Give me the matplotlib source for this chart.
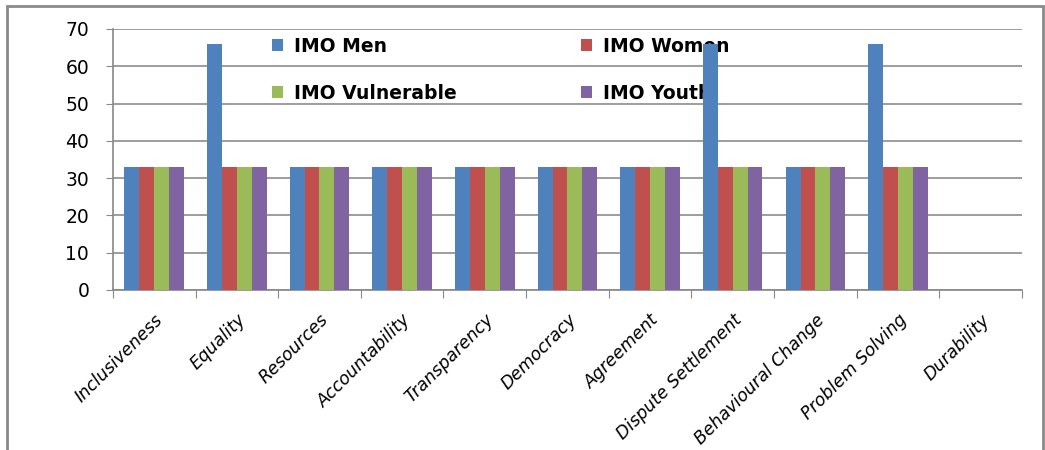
import numpy as np
import matplotlib.pyplot as plt
from matplotlib.patches import Rectangle

categories = ['Inclusiveness', 'Equality', 'Resources', 'Accountability', 'Transparency',
              'Democracy', 'Agreement', 'Dispute Settlement', 'Behavioural Change',
              'Problem Solving', 'Durability']
imo_men = [33, 66, 33, 33, 33, 33, 33, 66, 33, 66, 0]
imo_women = [33, 33, 33, 33, 33, 33, 33, 33, 33, 33, 0]
imo_vulnerable = [33, 33, 33, 33, 33, 33, 33, 33, 33, 33, 0]
imo_youth = [33, 33, 33, 33, 33, 33, 33, 33, 33, 33, 0]

series = [('IMO Men', imo_men, '#4f81bd'),
          ('IMO Women', imo_women, '#c0504d'),
          ('IMO Vulnerable', imo_vulnerable, '#9bbb59'),
          ('IMO Youth', imo_youth, '#8064a2')]

fig = plt.figure(figsize=(10.45, 4.5), dpi=100)
ax = fig.add_axes([0.108, 0.3556, 0.870, 0.58])

x = np.arange(len(categories))
w = 0.18
bars = []
for i, (name, vals, col) in enumerate(series):
    bars.append(ax.bar(x + (i - 1.5) * w, vals, width=w, color=col, label=name, zorder=3))

ax.set_xlim(-0.5, len(categories) - 0.5)
ax.set_ylim(0, 70)
ax.set_yticks(range(0, 71, 10))
ax.tick_params(axis='y', labelsize=13.5, length=5, color='#888888', pad=12)
ax.yaxis.grid(True, color='#8c8c8c', linewidth=1.2, zorder=0)
ax.set_axisbelow(True)

# ticks between the category groups, labels centred under each group
ax.set_xticks(np.arange(len(categories) + 1) - 0.5)
ax.set_xticklabels([])
ax.set_xticks(x, minor=True)
ax.set_xticklabels(categories, minor=True, rotation=45, ha='right', rotation_mode='anchor',
                   fontsize=12.5, style='italic')
ax.tick_params(axis='x', which='major', length=6, color='#888888')
ax.tick_params(axis='x', which='minor', length=0, pad=15)

for s in ['top', 'right']:
    ax.spines[s].set_visible(False)
for s in ['left', 'bottom']:
    ax.spines[s].set_color('#888888')
    ax.spines[s].set_linewidth(1.2)

# legend filled row by row: Men, Women / Vulnerable, Youth
order = [0, 2, 1, 3]
leg = ax.legend([bars[k] for k in order], [series[k][0] for k in order],
                ncol=2, loc='upper left', bbox_to_anchor=(0.156, 1.035), frameon=False,
                prop={'weight': 'bold', 'size': 13.5}, handlelength=0.6, handleheight=0.6,
                handletextpad=0.6, labelspacing=1.5, columnspacing=6.6)
leg.set_zorder(2)

fig.patches.append(Rectangle((0.007, -0.02), 0.991, 1.006, transform=fig.transFigure,
                             fill=False, edgecolor='#8a8a8a', linewidth=2))

fig.savefig('out.png', dpi=100)
